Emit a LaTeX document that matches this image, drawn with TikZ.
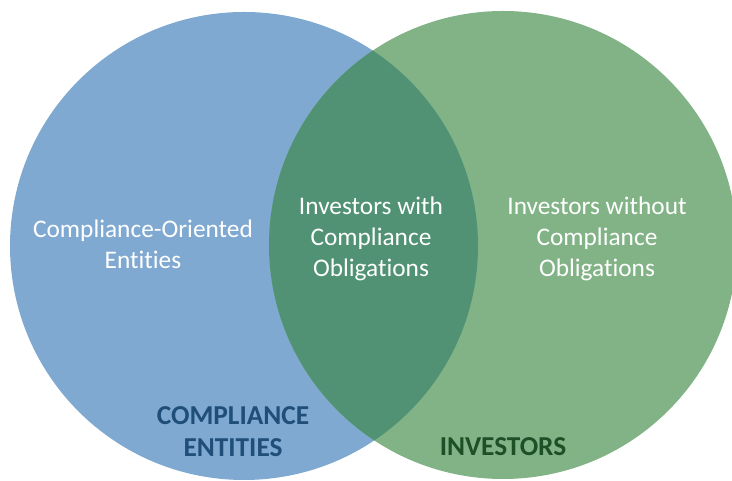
\documentclass[tikz,border=0pt]{standalone}
\usepackage{fontspec}
\setmainfont{Carlito}[Ligatures={NoCommon}]
\definecolor{ceblue}{RGB}{127,169,209}
\definecolor{invgreen}{RGB}{130,179,134}
\definecolor{bothgreen}{RGB}{80,146,115}
\definecolor{cetext}{RGB}{31,78,121}
\definecolor{invtext}{RGB}{30,80,40}
\tikzset{
  inner/.style={text=white, align=center, font=\fontsize{19}{23.25}\selectfont},
  title/.style={align=center, font=\fontsize{20.5}{24}\selectfont\bfseries}
}

\begin{document}
\begin{tikzpicture}[x=0.75pt, y=0.75pt]
  \clip (0,0) rectangle (732,481);

  \fill[ceblue]   (244,235) circle (175.5pt);
  \fill[invgreen] (503,236) circle (175.5pt);
  \begin{scope}
    \clip (244,235) circle (175.5pt);
    \fill[bothgreen] (503,236) circle (175.5pt);
  \end{scope}

  \node[inner] (CE)  at (143,237) {Compliance-Oriented\\Entities};
  \node[inner] (IW)  at (371,242) {Investors with\\Compliance\\Obligations};
  \node[inner] (IWO) at (597,242) {Investors without\\Compliance\\Obligations};

  \node[title, text=cetext]  (CEL) at (233,49) {COMPLIANCE\\ENTITIES};
  \node[title, text=invtext] (INV) at (503,34) {INVESTORS};
\end{tikzpicture}
\end{document}
